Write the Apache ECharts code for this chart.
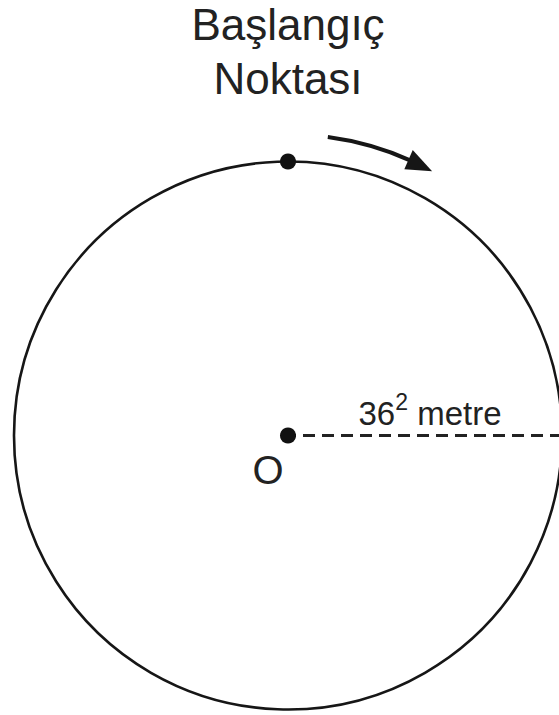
<!DOCTYPE html>
<html>
<head>
<meta charset="utf-8">
<script src="https://cdn.jsdelivr.net/npm/echarts@6.0.0/dist/echarts.min.js"></script>
<style>
  html, body { margin: 0; padding: 0; background: #fff; }
  #chart { width: 559px; height: 715px; }
</style>
</head>
<body>
<div id="chart"></div>
<script>
// data (metres)
var radius = 1296;                 // 36^2 metre
var centerPoint = [0, 0];
var startPoint = [0, radius];
var pointNames = ['O', 'Başlangıç\nNoktası'];
var radiusText = ['36', '2', ' metre'];
var arrowRadius = 1424;            // arrow arc just outside the track
var arrowDeg = [7.6, 23.6, 28.6];  // shaft start, head base, head tip (clockwise from top)

// layout: where the centre sits and how big the circle is on the page
var W = 559, H = 715;
var centerPx = [288, 435.5];
var radiusPx = 274;
var k = radiusPx / radius;

var font = 'Liberation Sans, Arial, sans-serif';
var ink = '#161616';
var textInk = '#222';

function rad(d) {
	return (d - 90) * Math.PI / 180;
}

var chart = echarts.init(document.getElementById('chart'), null, { renderer: 'svg' });

var option = {
	animation: false,
	backgroundColor: '#fff',
	grid: { left: 0, right: 0, top: 0, bottom: 0 },
	xAxis: {
		type: 'value',
		min: -centerPx[0] / k,
		max: (W - centerPx[0]) / k,
		show: false
	},
	yAxis: {
		type: 'value',
		min: -(H - centerPx[1]) / k,
		max: centerPx[1] / k,
		show: false
	},
	series: [
		{
			// the track
			type: 'custom',
			data: [[centerPoint[0], centerPoint[1], radius]],
			clip: false,
			silent: true,
			z: 1,
			renderItem: function (params, api) {
				var c = api.coord([api.value(0), api.value(1)]);
				var r = api.size([api.value(2), 0])[0];
				return {
					type: 'circle',
					shape: { cx: c[0], cy: c[1], r: r },
					style: { fill: 'none', stroke: ink, lineWidth: 2.6 }
				};
			}
		},
		{
			// direction arrow
			type: 'custom',
			data: [[centerPoint[0], centerPoint[1], arrowRadius, arrowDeg[0], arrowDeg[1], arrowDeg[2]]],
			clip: false,
			silent: true,
			z: 2,
			renderItem: function (params, api) {
				var c = api.coord([api.value(0), api.value(1)]);
				var r = api.size([api.value(2), 0])[0];
				var a0 = rad(api.value(3)), a1 = rad(api.value(4)), a2 = rad(api.value(5));
				var hw = 10.5;
				var pts = [
					[c[0] + r * Math.cos(a2), c[1] + r * Math.sin(a2)],
					[c[0] + (r + hw) * Math.cos(a1), c[1] + (r + hw) * Math.sin(a1)],
					[c[0] + (r - hw) * Math.cos(a1), c[1] + (r - hw) * Math.sin(a1)]
				];
				return {
					type: 'group',
					children: [
						{
							type: 'arc',
							shape: { cx: c[0], cy: c[1], r: r, startAngle: a0, endAngle: a1 + 0.01, clockwise: true },
							style: { fill: 'none', stroke: ink, lineWidth: 4 }
						},
						{
							type: 'polygon',
							shape: { points: pts },
							style: { fill: ink }
						}
					]
				};
			}
		},
		{
			// dashed radius with its length written above it
			type: 'custom',
			data: [[centerPoint[0], centerPoint[1], radius]],
			clip: false,
			silent: true,
			z: 2,
			renderItem: function (params, api) {
				var p0 = api.coord([api.value(0), api.value(1)]);
				var p1 = api.coord([api.value(0) + api.value(2), api.value(1)]);
				return {
					type: 'group',
					children: [
						{
							type: 'line',
							shape: { x1: p0[0], y1: p0[1], x2: p1[0], y2: p1[1] },
							style: { stroke: '#222', lineWidth: 3, lineDash: [12, 7], lineDashOffset: 4 }
						},
						{
							type: 'text',
							x: (p0[0] + p1[0]) / 2 + 5,
							y: p0[1] - 5.5,
							style: {
								text: '{a|' + radiusText[0] + '}{b|' + radiusText[1] + '}{a|' + radiusText[2] + '}',
								align: 'center',
								verticalAlign: 'bottom',
								rich: {
									a: { fontFamily: font, fontSize: 33, fill: textInk, lineHeight: 40, verticalAlign: 'bottom' },
									b: { fontFamily: font, fontSize: 23, fill: textInk, lineHeight: 23, padding: [0, 0, 17, 0], verticalAlign: 'bottom' }
								}
							}
						}
					]
				};
			}
		},
		{
			// centre and start point
			type: 'scatter',
			symbol: 'circle',
			symbolSize: 16,
			silent: true,
			z: 5,
			itemStyle: { color: '#111', opacity: 1 },
			data: [
				{
					value: centerPoint,
					name: pointNames[0],
					label: {
						show: true, position: 'inside', offset: [-20, 34],
						formatter: '{b}', fontFamily: font, fontSize: 40, color: textInk
					}
				},
				{
					value: startPoint,
					name: pointNames[1],
					label: {
						show: true, position: 'top', distance: 48,
						formatter: '{b}', fontFamily: font, fontSize: 44, lineHeight: 54, color: textInk
					}
				}
			]
		}
	]
};

chart.setOption(option);
</script>
</body>
</html>
